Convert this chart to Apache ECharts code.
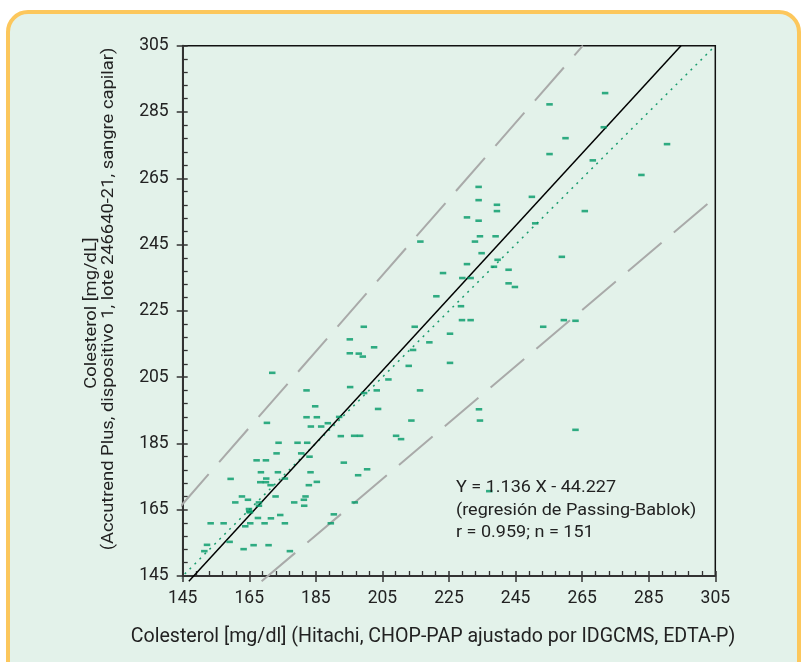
<!DOCTYPE html>
<html>
<head>
<meta charset="utf-8">
<script src="https://cdn.jsdelivr.net/npm/echarts@6/dist/echarts.min.js"></script>
<style>
  html, body { margin: 0; padding: 0; background: #ffffff; }
  #chart { width: 807px; height: 662px; }
</style>
</head>
<body>
<div id="chart"></div>
<script>
// Cholesterol method comparison: Hitachi reference (x) vs. Accutrend Plus capillary (y), mg/dL
const hitachiValues = [
  271.9, 255.2, 271.5, 260.0, 290.5, 255.2, 268.2, 282.8, 233.9, 233.9,
  239.4, 239.4, 249.9, 230.4, 233.9, 265.8, 250.9, 234.3, 239.0, 232.8,
  216.4, 234.8, 258.9, 230.4, 239.6, 238.5, 242.9, 223.2, 229.0, 231.5,
  242.9, 244.8, 221.2, 228.6, 228.9, 231.5, 225.3, 225.3, 253.3, 259.5,
  263.0, 234.0, 234.3, 263.0, 214.7, 199.4, 195.2, 195.2, 197.9, 199.1,
  202.5, 214.2, 219.1, 212.9, 171.9, 206.8, 195.3, 182.2, 203.3, 199.5,
  216.3, 184.8, 203.7, 182.2, 185.3, 192.0, 170.3, 188.6, 183.5, 186.6,
  213.7, 192.5, 196.5, 198.3, 209.1, 210.6, 173.8, 179.5, 182.4, 173.2,
  180.6, 183.1, 167.2, 170.0, 193.4, 200.4, 159.4, 168.5, 173.6, 183.4,
  170.1, 175.7, 168.3, 170.0, 171.4, 185.3, 182.9, 197.7, 162.8, 172.9,
  181.9, 164.6, 181.4, 160.8, 167.9, 178.5, 196.7, 181.5, 167.9, 164.9,
  165.2, 165.0, 174.3, 190.4, 167.6, 153.4, 157.3, 165.3, 169.6, 171.5,
  175.7, 189.5, 163.8, 159.1, 152.3, 163.3, 166.3, 170.8, 151.5, 177.2,
  237.1
];
const accutrendValues = [
  290.7, 287.3, 280.4, 277.1, 275.3, 272.3, 270.4, 266.0, 262.4, 258.4,
  257.0, 255.1, 259.4, 253.2, 252.2, 255.1, 251.4, 247.5, 247.5, 245.9,
  245.9, 242.4, 241.3, 239.1, 240.4, 238.3, 237.4, 236.4, 234.9, 234.9,
  233.3, 232.2, 229.4, 226.4, 222.2, 222.2, 218.1, 209.3, 220.2, 222.2,
  222.0, 195.3, 191.9, 189.1, 220.2, 220.2, 216.4, 212.2, 212.1, 211.2,
  214.0, 213.2, 215.5, 208.4, 206.3, 204.3, 202.0, 201.0, 201.0, 200.2,
  201.0, 196.2, 195.4, 192.9, 192.9, 193.0, 191.2, 191.1, 190.1, 190.1,
  191.9, 187.2, 187.3, 187.3, 187.3, 186.3, 185.2, 185.2, 185.2, 182.0,
  182.0, 181.0, 179.9, 179.9, 179.2, 177.2, 174.3, 176.3, 176.3, 176.3,
  174.4, 174.4, 173.3, 173.3, 172.4, 173.4, 172.4, 175.4, 169.0, 169.0,
  169.0, 168.0, 168.0, 167.2, 167.2, 167.2, 167.2, 166.2, 166.2, 165.2,
  164.2, 164.5, 163.4, 163.6, 162.5, 160.9, 160.9, 160.9, 160.9, 162.4,
  160.9, 160.9, 160.0, 155.3, 154.4, 153.1, 154.3, 154.3, 152.5, 152.5,
  170.6
];

// Axis scale
const axisMin = 145;
const axisMax = 305;
const axisStep = 20;

// Reference lines (y = slope * x + intercept)
const identityLine = { slope: 1.0, intercept: 0 };
const upperLimitLine = { slope: 1.15, intercept: 0 };
const lowerLimitLine = { slope: 0.85, intercept: 0 };
const regressionLine = { slope: 1.093, intercept: -17.1 };

const equationLines = [
  'Y = 1.136 X - 44.227',
  '(regresión de Passing-Bablok)',
  'r = 0.959; n = 151'
];

const xAxisTitle = 'Colesterol [mg/dl] (Hitachi, CHOP-PAP ajustado por IDGCMS, EDTA-P)';
const yAxisTitle1 = 'Colesterol [mg/dL]';
const yAxisTitle2 = '(Accutrend Plus, dispositivo 1, lote 246640-21, sangre capilar)';

// lines run a touch past the frame on the low side, as in print
const lineXLow = 144.1;
const lineYLow = 143.4;

function segment(l) {
  const x0 = Math.max(lineXLow, (lineYLow - l.intercept) / l.slope);
  const x1 = Math.min(axisMax, (axisMax - l.intercept) / l.slope);
  return [[x0, l.slope * x0 + l.intercept], [x1, l.slope * x1 + l.intercept]];
}

const points = hitachiValues.map((x, i) => [x, accutrendValues[i]]);

const FONT = 'Roboto, "Liberation Sans", sans-serif';
const TEXT = '#222222';
const GREEN = '#009966';

const chart = echarts.init(document.getElementById('chart'), null, { renderer: 'canvas' });

function valueAxis(extra) {
  return Object.assign({
    type: 'value',
    min: axisMin,
    max: axisMax,
    interval: axisStep,
    splitLine: { show: false }
  }, extra);
}

const option = {
  backgroundColor: '#ffffff',
  animation: false,
  grid: {
    left: 182.7, top: 45.7, right: 91.7, bottom: 86,
    show: true, borderColor: '#111111', borderWidth: 1.5, backgroundColor: 'transparent'
  },
  graphic: [
    {
      type: 'rect', z: -10, silent: true,
      shape: { x: 8, y: 12, width: 791, height: 680, r: 20 },
      style: { fill: '#e3f2ea', stroke: '#fcc75c', lineWidth: 4 }
    },
    {
      type: 'text', x: 433, y: 637, z: 10,
      style: { text: xAxisTitle, font: '19.6px ' + FONT, fill: TEXT, textAlign: 'center', textVerticalAlign: 'middle' }
    },
    {
      // wide-set lettering for the vertical title
      type: 'text', x: 91.5, y: 313, rotation: Math.PI / 2, scaleX: 1.12, z: 10,
      style: { text: yAxisTitle1, font: '16.4px ' + FONT, fill: TEXT, textAlign: 'center', textVerticalAlign: 'middle' }
    },
    {
      type: 'text', x: 108.8, y: 299, rotation: Math.PI / 2, scaleX: 1.12, z: 10,
      style: { text: yAxisTitle2, font: '16.4px ' + FONT, fill: TEXT, textAlign: 'center', textVerticalAlign: 'middle' }
    },
    {
      type: 'text', x: 456, y: 510.6, scaleX: 1.1, z: 10,
      style: { text: equationLines.join('\n'), font: '16.4px ' + FONT, lineHeight: 22.2, fill: TEXT, textAlign: 'left', textVerticalAlign: 'middle' }
    }
  ],
  xAxis: [
    valueAxis({
      position: 'bottom',
      axisLine: { show: true, lineStyle: { color: '#333333', width: 2 } },
      axisTick: { show: true, inside: false, length: 6, lineStyle: { color: '#333333', width: 1.5 } },
      axisLabel: { margin: 14, color: TEXT, fontSize: 17.5, fontFamily: FONT }
    }),
    valueAxis({
      position: 'bottom',
      axisLine: { show: false },
      axisLabel: { show: false },
      axisTick: { show: true, inside: true, length: 5, lineStyle: { color: '#333333', width: 1.5 } },
      minorTick: { show: true, splitNumber: 5, length: 5, lineStyle: { color: '#333333', width: 1.3 } }
    })
  ],
  yAxis: [
    valueAxis({
      position: 'left',
      axisLine: { show: true, lineStyle: { color: '#333333', width: 2 } },
      axisTick: { show: true, inside: false, length: 6, lineStyle: { color: '#333333', width: 1.5 } },
      axisLabel: { margin: 14, color: TEXT, fontSize: 17.5, fontFamily: FONT }
    }),
    valueAxis({
      position: 'left',
      axisLine: { show: false },
      axisLabel: { show: false },
      axisTick: { show: true, inside: true, length: 5, lineStyle: { color: '#333333', width: 1.5 } },
      minorTick: { show: true, splitNumber: 5, length: 5, lineStyle: { color: '#333333', width: 1.3 } }
    })
  ],
  series: [
    {
      name: '+15%', type: 'line', data: segment(upperLimitLine), showSymbol: false, clip: false, z: 2,
      lineStyle: { color: '#a9aaa9', width: 2, type: [44, 16] }
    },
    {
      name: '-15%', type: 'line', data: segment(lowerLimitLine), showSymbol: false, clip: false, z: 2,
      lineStyle: { color: '#a9aaa9', width: 2, type: [44, 16] }
    },
    {
      name: 'identidad', type: 'line', data: segment(identityLine), showSymbol: false, clip: false, z: 3,
      lineStyle: { color: '#1a9c6e', width: 1.5, type: [2, 5] }
    },
    {
      name: 'regresión', type: 'line', data: segment(regressionLine), showSymbol: false, clip: false, z: 4,
      lineStyle: { color: '#000000', width: 1.5 }
    },
    {
      name: 'muestras', type: 'scatter', data: points, z: 5,
      symbol: 'rect', symbolSize: [6.5, 2.6],
      itemStyle: { color: GREEN }
    }
  ]
};

chart.setOption(option);
</script>
</body>
</html>
